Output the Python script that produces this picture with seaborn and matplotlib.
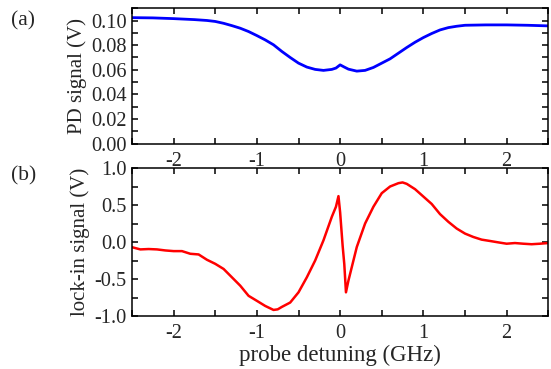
import matplotlib
matplotlib.use("Agg")
import matplotlib.pyplot as plt
from matplotlib.ticker import MultipleLocator, FormatStrFormatter
import seaborn as sns

# ── Data ───────────────────────────────────────────────────────────────────────
pd_detuning = [-2.5, -2.25, -2.0, -1.75, -1.6, -1.5, -1.4, -1.3, -1.2, -1.1, -1.0,
               -0.9, -0.8, -0.7, -0.6, -0.5, -0.4, -0.3, -0.2, -0.1, -0.05,
               0.0, 0.05, 0.1, 0.2, 0.3, 0.4, 0.5, 0.6, 0.7, 0.8,
               0.9, 1.0, 1.1, 1.2, 1.3, 1.4, 1.5, 1.75, 2.0, 2.25, 2.5]
pd_signal = [0.1024, 0.1022, 0.1016, 0.1008, 0.1001, 0.0993, 0.0978, 0.0959, 0.0938, 0.0911, 0.0878,
             0.0843, 0.0803, 0.0749, 0.0700, 0.0654, 0.0622, 0.0603, 0.0595, 0.0603, 0.0614,
             0.0640, 0.0622, 0.0605, 0.0589, 0.0595, 0.0619, 0.0654, 0.0689, 0.0735, 0.0781,
             0.0824, 0.0862, 0.0895, 0.0924, 0.0943, 0.0954, 0.0962, 0.0965, 0.0965, 0.0962, 0.0957]

lockin_detuning = [-2.5, -2.4, -2.3, -2.2, -2.1, -2.0, -1.9, -1.8, -1.7, -1.6,
                   -1.5, -1.4, -1.3, -1.2, -1.1, -1.0, -0.9, -0.8, -0.75, -0.7,
                   -0.6, -0.5, -0.4, -0.3, -0.2, -0.1, -0.05, -0.02, 0.0, 0.03,
                   0.05, 0.07, 0.1, 0.2, 0.3, 0.4, 0.5, 0.6, 0.7, 0.75,
                   0.8, 0.9, 1.0, 1.1, 1.2, 1.3, 1.4, 1.5, 1.6, 1.7,
                   1.8, 1.9, 2.0, 2.1, 2.2, 2.3, 2.4, 2.5]
lockin_signal = [-0.07, -0.10, -0.095, -0.10, -0.114, -0.123, -0.123, -0.159, -0.168, -0.24,
                 -0.295, -0.364, -0.477, -0.59, -0.727, -0.795, -0.864, -0.918, -0.91, -0.877,
                 -0.818, -0.68, -0.477, -0.25, 0.023, 0.34, 0.477, 0.62, 0.40, -0.05,
                 -0.30, -0.68, -0.52, -0.068, 0.25, 0.477, 0.66, 0.75, 0.795, 0.805,
                 0.786, 0.714, 0.614, 0.514, 0.377, 0.273, 0.182, 0.114, 0.068, 0.032,
                 0.014, -0.005, -0.023, -0.014, -0.023, -0.03, -0.023, -0.014]

x_ticks = [-2, -1, 0, 1, 2]

# ── Style ──────────────────────────────────────────────────────────────────────
sns.set_theme(style="ticks")
plt.rcParams["font.family"] = ["Liberation Serif", "DejaVu Serif"]
plt.rcParams["axes.unicode_minus"] = False

FS = 14.7

fig = plt.figure(figsize=(5.51, 3.69), dpi=100)
ax_a = fig.add_axes([0.2396, 0.611, 0.7554, 0.3665])
ax_b = fig.add_axes([0.2396, 0.1436, 0.7554, 0.4011])

sns.lineplot(x=pd_detuning, y=pd_signal, ax=ax_a, color="#0000ff", linewidth=2.0)
sns.lineplot(x=lockin_detuning, y=lockin_signal, ax=ax_b, color="#ff0000", linewidth=1.8)

for ax in (ax_a, ax_b):
    ax.set_xlim(-2.5, 2.5)
    ax.set_xticks(x_ticks)
    ax.xaxis.set_minor_locator(MultipleLocator(0.5))
    ax.tick_params(which="both", direction="in", top=True, right=True,
                   length=4, width=1.1, labelsize=FS, color="black")
    ax.tick_params(axis="x", which="both", pad=6)
    ax.tick_params(axis="y", which="both", pad=4)
    for s in ax.spines.values():
        s.set_linewidth(1.1)
        s.set_color("black")
    ax.grid(False)

ax_a.set_ylim(0, 0.11)
ax_a.set_yticks([0.00, 0.02, 0.04, 0.06, 0.08, 0.10])
ax_a.yaxis.set_minor_locator(MultipleLocator(0.01))
ax_a.yaxis.set_major_formatter(FormatStrFormatter("%.2f"))
ax_a.set_ylabel("PD signal (V)", fontsize=15, labelpad=3)

ax_b.set_ylim(-1.0, 1.0)
ax_b.set_yticks([-1.0, -0.5, 0.0, 0.5, 1.0])
ax_b.yaxis.set_minor_locator(MultipleLocator(0.25))
ax_b.yaxis.set_major_formatter(FormatStrFormatter("%.1f"))
ax_b.set_ylabel("lock-in signal (V)", fontsize=15, labelpad=3)
ax_b.set_xlabel("probe detuning (GHz)", fontsize=16.5, labelpad=1)

fig.text(0.02, 0.943, "(a)", fontsize=15.5, ha="left", va="center")
fig.text(0.02, 0.523, "(b)", fontsize=15.5, ha="left", va="center")

fig.savefig("out.png", dpi=100)
